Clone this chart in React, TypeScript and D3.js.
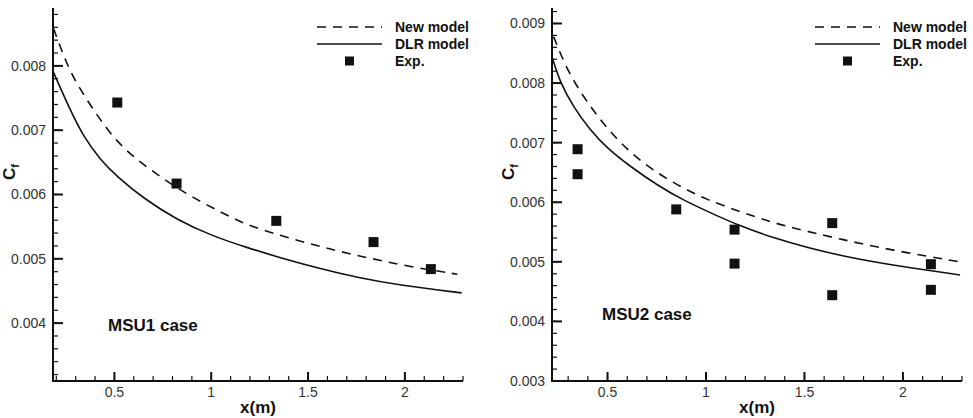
import * as d3 from 'd3';
import React from 'react';

// MSU1 case
const msu1NewX = [0.186, 0.264, 0.341, 0.427, 0.513, 0.616, 0.735, 0.89, 1.113, 1.199, 1.405, 1.61, 1.816, 2.022, 2.271];
const msu1NewY = [0.00858, 0.00794, 0.00755, 0.00716, 0.00682, 0.00654, 0.00628, 0.00597, 0.00563, 0.00551, 0.00532, 0.00515, 0.00501, 0.00488, 0.00476];
const msu1DlrX = [0.183, 0.272, 0.341, 0.427, 0.513, 0.65, 0.821, 1.0, 1.199, 1.353, 1.542, 1.765, 1.971, 2.293];
const msu1DlrY = [0.00792, 0.00731, 0.0069, 0.00654, 0.00628, 0.00594, 0.00561, 0.00536, 0.00516, 0.00502, 0.00486, 0.0047, 0.00459, 0.00447];
const msu1ExpX = [0.515, 0.821, 1.336, 1.838, 2.134];
const msu1ExpY = [0.00743, 0.00617, 0.00559, 0.00526, 0.00484];

// MSU2 case
const msu2NewX = [0.226, 0.294, 0.378, 0.463, 0.565, 0.7, 0.852, 1.005, 1.174, 1.309, 1.427, 1.681, 1.935, 2.29];
const msu2NewY = [0.00878, 0.00822, 0.00777, 0.00738, 0.00699, 0.0066, 0.00629, 0.00604, 0.00584, 0.00569, 0.00558, 0.00538, 0.0052, 0.005];
const msu2DlrX = [0.218, 0.26, 0.327, 0.412, 0.497, 0.615, 0.751, 0.886, 1.038, 1.174, 1.343, 1.512, 1.715, 1.935, 2.29];
const msu2DlrY = [0.00844, 0.008, 0.0076, 0.00721, 0.00691, 0.0066, 0.00629, 0.00603, 0.0058, 0.0056, 0.0054, 0.00524, 0.00508, 0.00495, 0.00478];
const msu2ExpX = [0.348, 0.348, 0.849, 1.145, 1.145, 1.641, 1.641, 2.142, 2.142];
const msu2ExpY = [0.00689, 0.00647, 0.00588, 0.00554, 0.00497, 0.00565, 0.00444, 0.00496, 0.00453];

const xTicks = [0.5, 1, 1.5, 2];
const yTicks1 = [0.004, 0.005, 0.006, 0.007, 0.008];
const yTicks2 = [0.003, 0.004, 0.005, 0.006, 0.007, 0.008, 0.009];
const legendLabels = ['New model', 'DLR model', 'Exp.'];

const font = 'Arial, "Liberation Sans", Helvetica, sans-serif';
const ink = '#111';

function Panel({ x0, x1, xDomain, yDomain, yTicks, newX, newY, dlrX, dlrY, expX, expY, caseLabel, caseX, caseY, legendX }) {
  const x = d3.scaleLinear().domain(xDomain).range([x0, x1]);
  const y = d3.scaleLinear().domain(yDomain).range([381, 8]);
  const line = d3.line().x(d => x(d[0])).y(d => y(d[1])).curve(d3.curveBasis);
  const newPts = newX.map((v, i) => [v, newY[i]]);
  const dlrPts = dlrX.map((v, i) => [v, dlrY[i]]);
  const xMinor = d3.range(0.1, 2.31, 0.1).filter(v => v >= xDomain[0] && v <= xDomain[1] + 1e-6);
  const yMinor = d3.range(0.0030, 0.0095, 0.0002).filter(v => v >= yDomain[0] + 1e-7 && v <= yDomain[1]);
  const sq = 10;
  return (
    <g>
      <path d={line(newPts)} fill="none" stroke={ink} strokeWidth={1.6} strokeDasharray="9 7" />
      <path d={line(dlrPts)} fill="none" stroke={ink} strokeWidth={1.6} />
      {expX.map((v, i) => (
        <rect key={i} x={x(v) - sq / 2} y={y(expY[i]) - sq / 2} width={sq} height={sq} fill={ink} />
      ))}
      {/* axes */}
      <line x1={x0} x2={x0} y1={8} y2={382} stroke={ink} strokeWidth={2} />
      <line x1={x0 - 1} x2={x1} y1={381} y2={381} stroke={ink} strokeWidth={2} />
      {yMinor.map((v, i) => (
        <line key={'ym' + i} x1={x0} x2={x0 + 5} y1={y(v)} y2={y(v)} stroke={ink} strokeWidth={1.2} />
      ))}
      {yTicks.map(v => (
        <g key={'y' + v}>
          <line x1={x0} x2={x0 + 10} y1={y(v)} y2={y(v)} stroke={ink} strokeWidth={2} />
          <text x={x0 - 7} y={y(v)} dy="0.35em" textAnchor="end" fontFamily={font} fontSize={14} fill="#333">
            {d3.format('.3f')(v)}
          </text>
        </g>
      ))}
      {xMinor.map((v, i) => (
        <line key={'xm' + i} x1={x(v)} x2={x(v)} y1={381} y2={376} stroke={ink} strokeWidth={1.2} />
      ))}
      {xTicks.map(v => (
        <g key={'x' + v}>
          <line x1={x(v)} x2={x(v)} y1={381} y2={372} stroke={ink} strokeWidth={2} />
          <text x={x(v)} y={397} textAnchor="middle" fontFamily={font} fontSize={14} fill="#333">{v}</text>
        </g>
      ))}
      <text x={(x0 + x1) / 2} y={413} textAnchor="middle" fontFamily={font} fontSize={17} fontWeight="bold" fill={ink}>x(m)</text>
      <text transform={`translate(${x0 - 38},172) rotate(-90)`} textAnchor="middle" fontFamily={font} fontSize={17} fontWeight="bold" fill={ink}>
        C<tspan fontSize={11} dy={4}>f</tspan>
      </text>
      <text x={caseX} y={caseY} fontFamily={font} fontSize={17} fontWeight="bold" fill={ink}>{caseLabel}</text>
      {/* legend */}
      <g transform={`translate(${legendX},0)`}>
        <line x1={0} x2={65} y1={27} y2={27} stroke={ink} strokeWidth={1.6} strokeDasharray="9 7" />
        <line x1={0} x2={65} y1={44} y2={44} stroke={ink} strokeWidth={1.6} />
        <rect x={32.5 - 4.5} y={61 - 4.5} width={9} height={9} fill={ink} />
        {legendLabels.map((t, i) => (
          <text key={t} x={78} y={32 + i * 17} fontFamily={font} fontSize={14} fontWeight="bold" fill={ink}>{t}</text>
        ))}
      </g>
    </g>
  );
}

export default function App() {
  return (
    <svg width={973} height={418} style={{ position: 'absolute', left: 0, top: 0, background: '#fff' }}>
      <Panel x0={53} x1={463} xDomain={[0.183, 2.3]} yDomain={[0.0031, 0.0089]} yTicks={yTicks1}
        newX={msu1NewX} newY={msu1NewY} dlrX={msu1DlrX} dlrY={msu1DlrY} expX={msu1ExpX} expY={msu1ExpY}
        caseLabel="MSU1 case" caseX={108} caseY={331} legendX={317} />
      <Panel x0={552} x1={962} xDomain={[0.218, 2.3]} yDomain={[0.003, 0.00926]} yTicks={yTicks2}
        newX={msu2NewX} newY={msu2NewY} dlrX={msu2DlrX} dlrY={msu2DlrY} expX={msu2ExpX} expY={msu2ExpY}
        caseLabel="MSU2 case" caseX={602} caseY={320} legendX={815} />
    </svg>
  );
}
